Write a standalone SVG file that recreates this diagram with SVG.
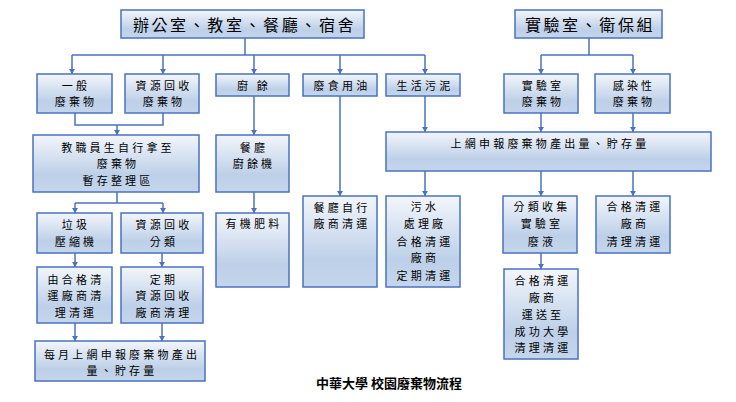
<svg xmlns="http://www.w3.org/2000/svg" width="736" height="402" viewBox="0 0 736 402">
<defs>
<linearGradient id="g" x1="0" y1="0" x2="0" y2="1">
<stop offset="0" stop-color="#f3f6fb"/>
<stop offset="0.7" stop-color="#bdd0e8"/>
<stop offset="1" stop-color="#c5d6eb"/>
</linearGradient>
<marker id="ad" markerUnits="userSpaceOnUse" markerWidth="6" markerHeight="6" refX="5" refY="3" orient="auto" viewBox="0 0 6 6">
<path d="M0,0 L5,3 L0,6 Z" fill="#4a72c4"/>
</marker>
</defs>
<style>
rect{fill:url(#g);stroke:#4a72c4;stroke-width:1.5}
text{font-family:"Noto Sans CJK TC","Noto Sans CJK SC",sans-serif;font-size:11px;letter-spacing:3.2px;text-anchor:middle;fill:#000}
.big{font-size:16px;letter-spacing:2.6px}
.ttl{font-size:13px;font-weight:bold;letter-spacing:0;fill:#000}
#connectors path{fill:none;stroke:#4a72c4;stroke-width:1.5}
.ar{marker-end:url(#ad)}
</style>
<g id="connectors">
<path d="M245,38V55M72,55H425"/>
<path class="ar" d="M72,55V74"/>
<path class="ar" d="M163,55V74"/>
<path class="ar" d="M254,55V74"/>
<path class="ar" d="M340,55V74"/>
<path class="ar" d="M425,55V74"/>
<path d="M589,38V55M541,55H633"/>
<path class="ar" d="M541,55V74"/>
<path class="ar" d="M633,55V74"/>
<path d="M75,113V125H163V113"/>
<path class="ar" d="M117,125V135"/>
<path class="ar" d="M254,96V135"/>
<path class="ar" d="M254,192V213"/>
<path class="ar" d="M340,96V196"/>
<path class="ar" d="M425,96V132"/>
<path class="ar" d="M541,113V132"/>
<path class="ar" d="M633,113V132"/>
<path class="ar" d="M425,171V196"/>
<path class="ar" d="M541,171V196"/>
<path class="ar" d="M633,171V196"/>
<path class="ar" d="M541,253V269"/>
<path d="M117,192V203M75,203H163"/>
<path class="ar" d="M75,203V213"/>
<path class="ar" d="M163,203V213"/>
<path class="ar" d="M75,253V267"/>
<path class="ar" d="M162,253V267"/>
<path class="ar" d="M75,323V341"/>
<path class="ar" d="M162,323V341"/>
</g>
<g id="n-office"><rect x="121" y="10" width="243" height="28"/><text class="big" x="244.5" y="30.5">辦公室、教室、餐廳、宿舍</text></g>
<g id="n-lab"><rect x="515" y="10" width="147" height="28"/><text class="big" x="590" y="30.5">實驗室、衛保組</text></g>
<g id="n-general"><rect x="37" y="74" width="75" height="39"/><text x="76" y="90">一般<tspan x="76" dy="16">廢棄物</tspan></text></g>
<g id="n-recycle"><rect x="125" y="74" width="74" height="39"/><text x="164" y="90">資源回收<tspan x="164" dy="16">廢棄物</tspan></text></g>
<g id="n-kitchen"><rect x="216" y="74" width="73" height="22"/><text x="254" y="90">廚 餘</text></g>
<g id="n-oil"><rect x="303" y="74" width="74" height="22"/><text x="342" y="90">廢食用油</text></g>
<g id="n-sludge"><rect x="386" y="74" width="74" height="22"/><text x="425" y="90">生活污泥</text></g>
<g id="n-labwaste"><rect x="504" y="74" width="74" height="39"/><text x="543" y="90">實驗室<tspan x="543" dy="16">廢棄物</tspan></text></g>
<g id="n-infect"><rect x="595" y="74" width="75" height="39"/><text x="634" y="90">感染性<tspan x="634" dy="16">廢棄物</tspan></text></g>
<g id="n-staff"><rect x="33" y="135" width="166" height="57"/><text x="118" y="152">教職員生自行拿至<tspan x="118" dy="16">廢棄物</tspan><tspan x="118" dy="17">暫存整理區</tspan></text></g>
<g id="n-machine"><rect x="216" y="135" width="73" height="57"/><text x="254" y="151.5">餐廳<tspan x="254" dy="16">廚餘機</tspan></text></g>
<g id="n-fert"><rect x="216" y="213" width="73" height="74"/><text x="254" y="228">有機肥料</text></g>
<g id="n-oilvendor"><rect x="303" y="196" width="74" height="91"/><text x="342" y="212">餐廳自行<tspan x="342" dy="16">廠商清運</tspan></text></g>
<g id="n-report"><rect x="386" y="132" width="325" height="39"/><text x="550" y="148">上網申報廢棄物產出量、貯存量</text></g>
<g id="n-sewage"><rect x="386" y="196" width="74" height="91"/><text x="425" y="211">污水<tspan x="425" dy="17">處理廠</tspan><tspan x="425" dy="18">合格清運</tspan><tspan x="425" dy="16">廠商</tspan><tspan x="425" dy="18">定期清運</tspan></text></g>
<g id="n-liquid"><rect x="503" y="196" width="74" height="57"/><text x="542" y="211">分類收集<tspan x="542" dy="17">實驗室</tspan><tspan x="542" dy="18">廢液</tspan></text></g>
<g id="n-infvendor"><rect x="596" y="196" width="74" height="57"/><text x="635" y="211">合格清運<tspan x="635" dy="17">廠商</tspan><tspan x="635" dy="18">清理清運</tspan></text></g>
<g id="n-ncku"><rect x="504" y="269" width="74" height="90"/><text x="543" y="285">合格清運<tspan x="543" dy="17">廠商</tspan><tspan x="543" dy="17">運送至</tspan><tspan x="543" dy="17">成功大學</tspan><tspan x="543" dy="16">清理清運</tspan></text></g>
<g id="n-compress"><rect x="37" y="213" width="75" height="40"/><text x="76" y="229">垃圾<tspan x="76" dy="17">壓縮機</tspan></text></g>
<g id="n-sort"><rect x="121" y="213" width="82" height="40"/><text x="164" y="229">資源回收<tspan x="164" dy="17">分類</tspan></text></g>
<g id="n-trash"><rect x="37" y="267" width="75" height="56"/><text x="76" y="284">由合格清<tspan x="76" dy="16">運廠商清</tspan><tspan x="76" dy="17">理清運</tspan></text></g>
<g id="n-periodic"><rect x="121" y="267" width="82" height="56"/><text x="164" y="284">定期<tspan x="164" dy="16">資源回收</tspan><tspan x="164" dy="17">廠商清理</tspan></text></g>
<g id="n-monthly"><rect x="35" y="341" width="170" height="40"/><text x="122" y="358.5">每月上網申報廢棄物產出<tspan x="122" dy="16">量、貯存量</tspan></text></g>
<text class="ttl" x="389" y="387.5">中華大學 校園廢棄物流程</text>
</svg>
